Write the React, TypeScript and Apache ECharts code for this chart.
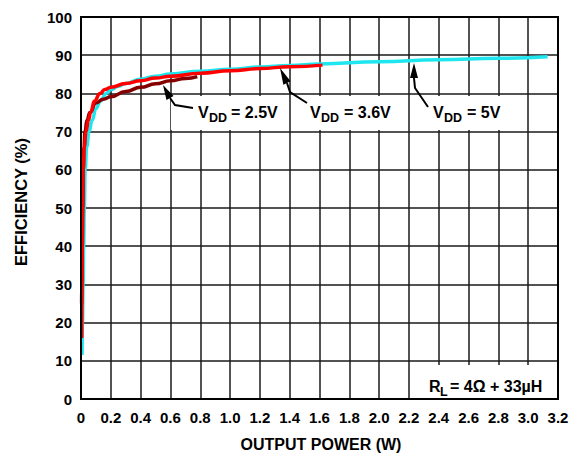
import React, { useEffect, useRef } from "react";
import * as echarts from "echarts";

const xTicks = [0, 0.2, 0.4, 0.6, 0.8, 1.0, 1.2, 1.4, 1.6, 1.8, 2.0, 2.2, 2.4, 2.6, 2.8, 3.0, 3.2];
const yTicks = [0, 10, 20, 30, 40, 50, 60, 70, 80, 90, 100];
const xTitle = "OUTPUT POWER (W)";
const yTitle = "EFFICIENCY (%)";

const vdd5: [number, number][] = [
  [0.007, 11.5], [0.01, 20], [0.014, 30], [0.018, 40], [0.022, 50], [0.028, 60],
  [0.038, 66], [0.054, 70], [0.075, 73], [0.1, 76], [0.13, 78], [0.17, 80],
  [0.2, 81], [0.25, 81.9], [0.3, 82.6], [0.4, 83.7], [0.5, 84.5], [0.6, 85.1],
  [0.8, 85.8], [1.0, 86.3], [1.2, 86.9], [1.4, 87.3], [1.6, 87.7], [2.0, 88.3],
  [2.4, 88.8], [2.8, 89.2], [3.13, 89.6],
];
const vdd36: [number, number][] = [
  [0.005, 16], [0.007, 30], [0.009, 40], [0.012, 50], [0.015, 60], [0.022, 66],
  [0.034, 70], [0.05, 73], [0.065, 75], [0.09, 78], [0.128, 80], [0.16, 81],
  [0.2, 81.6], [0.3, 82.6], [0.4, 83.3], [0.5, 84], [0.6, 84.5], [0.8, 85.3],
  [1.0, 85.9], [1.2, 86.5], [1.4, 87.0], [1.62, 87.4],
];
const vdd25: [number, number][] = [
  [0.004, 25], [0.006, 33], [0.008, 40], [0.011, 50], [0.015, 60], [0.02, 66],
  [0.027, 70], [0.04, 73], [0.06, 75], [0.1, 77.5], [0.15, 78.5], [0.2, 79.1],
  [0.3, 80.5], [0.4, 81.6], [0.5, 82.5], [0.6, 83.3], [0.7, 83.9], [0.78, 84.4],
];

const FONT = "'Liberation Sans', Arial, sans-serif";

function label(x: number, y: number, main: string, sub: string, rest: string, subW: number) {
  const t = (xx: number, yy: number, text: string, size: number) => ({
    type: "text",
    x: xx,
    y: yy,
    z: 100,
    style: {
      text,
      fontSize: size,
      fontWeight: "bold",
      fontFamily: FONT,
      fill: "#000",
      verticalAlign: "middle",
    },
  });
  return [
    t(x, y, main, 16),
    t(x + 11, y + 5.5, sub, 12.5),
    t(x + 11 + subW, y, rest, 16),
  ];
}

function arrow(tip: [number, number], base: [number, number], pts: [number, number][]) {
  const dx = base[0] - tip[0];
  const dy = base[1] - tip[1];
  const len = Math.sqrt(dx * dx + dy * dy);
  const px = (-dy / len) * 4;
  const py = (dx / len) * 4;
  return [
    {
      type: "polyline",
      z: 100,
      shape: { points: [base, ...pts] },
      style: { stroke: "#000", lineWidth: 2, fill: null },
    },
    {
      type: "polygon",
      z: 100,
      shape: { points: [tip, [base[0] + px, base[1] + py], [base[0] - px, base[1] - py]] },
      style: { fill: "#000" },
    },
  ];
}

function whiteBox(x: number, y: number, w: number, h: number) {
  return { type: "rect", z: 60, shape: { x, y, width: w, height: h }, style: { fill: "#fff" } };
}

export default function App() {
  const ref = useRef<HTMLDivElement>(null);
  useEffect(() => {
    document.body.style.margin = "0";
    const chart = echarts.init(ref.current!, null, { renderer: "svg" });
    const lineSeries = (name: string, data: [number, number][], color: string) => ({
      name,
      type: "line",
      data,
      smooth: 0.5,
      smoothMonotone: "x",
      showSymbol: false,
      symbol: "none",
      lineStyle: { color, width: 3.5 },
      z: 5,
    });
    const tickStyle = { fontSize: 15, fontWeight: "bold", fontFamily: FONT, color: "#000" };
    chart.setOption({
      animation: false,
      backgroundColor: "#fff",
      grid: { left: 81, right: 21, top: 17, bottom: 55, containLabel: false, outerBoundsMode: "none" },
      xAxis: {
        type: "value",
        min: 0,
        max: 3.2,
        interval: 0.2,
        axisLine: { show: true, lineStyle: { color: "#000", width: 2 } },
        axisTick: { show: false },
        axisLabel: {
          margin: 11,
          ...tickStyle,
          formatter: (v: number) => {
            const m = xTicks.find((t) => Math.abs(t - v) < 1e-6);
            if (m === undefined) return "";
            return m === 0 ? "0" : m.toFixed(1);
          },
        },
        splitLine: { show: true, lineStyle: { color: "#1a1a1a", width: 1.5 } },
      },
      yAxis: {
        type: "value",
        min: 0,
        max: 100,
        interval: 10,
        axisLine: { show: true, lineStyle: { color: "#000", width: 2 } },
        axisTick: { show: false },
        axisLabel: {
          margin: 9,
          ...tickStyle,
          formatter: (v: number) => (yTicks.includes(Math.round(v)) ? String(Math.round(v)) : ""),
        },
        splitLine: { show: true, lineStyle: { color: "#1a1a1a", width: 1.5 } },
      },
      series: [
        lineSeries("VDD = 5V", vdd5, "#1ee6ee"),
        lineSeries("VDD = 2.5V", vdd25, "#850000"),
        lineSeries("VDD = 3.6V", vdd36, "#ff0000"),
      ],
      graphic: [
        {
          type: "rect",
          z: 50,
          shape: { x: 81, y: 17, width: 477, height: 382 },
          style: { fill: null, stroke: "#000", lineWidth: 2 },
        },
        whiteBox(411, 365, 146, 33),
        whiteBox(171, 96, 117, 34),
        whiteBox(291, 96, 116, 34),
        whiteBox(410, 96, 117, 34),
        {
          type: "text",
          x: 321,
          y: 444,
          z: 100,
          style: { text: xTitle, fontSize: 16, fontWeight: "bold", fontFamily: FONT, fill: "#000", align: "center", verticalAlign: "middle" },
        },
        {
          type: "text",
          x: 20.5,
          y: 202,
          rotation: Math.PI / 2,
          z: 100,
          style: { text: yTitle, fontSize: 16.5, fontWeight: "bold", fontFamily: FONT, fill: "#000", align: "center", verticalAlign: "middle" },
        },
        ...label(198, 112.5, "V", "DD", "= 2.5V", 22),
        ...label(310, 112.5, "V", "DD", "= 3.6V", 23),
        ...label(433, 112.5, "V", "DD", "= 5V", 23),
        {
          type: "text",
          x: 429,
          y: 386,
          z: 100,
          style: { text: "R", fontSize: 16, fontWeight: "bold", fontFamily: FONT, fill: "#000", verticalAlign: "middle" },
        },
        {
          type: "text",
          x: 440,
          y: 391.5,
          z: 100,
          style: { text: "L", fontSize: 12.5, fontWeight: "bold", fontFamily: FONT, fill: "#000", verticalAlign: "middle" },
        },
        {
          type: "text",
          x: 450,
          y: 386,
          z: 100,
          style: { text: "= 4Ω + 33µH", fontSize: 16, fontWeight: "bold", fontFamily: FONT, fill: "#000", verticalAlign: "middle" },
        },
        ...arrow([163, 85], [170, 98], [[175, 105], [193, 108]]),
        ...arrow([280, 68], [287, 83], [[290, 92], [307, 103]]),
        ...arrow([414, 63], [414, 78], [[415, 88], [428, 107]]),
      ],
    });
    return () => chart.dispose();
  }, []);
  return <div ref={ref} style={{ width: 579, height: 454 }} />;
}
